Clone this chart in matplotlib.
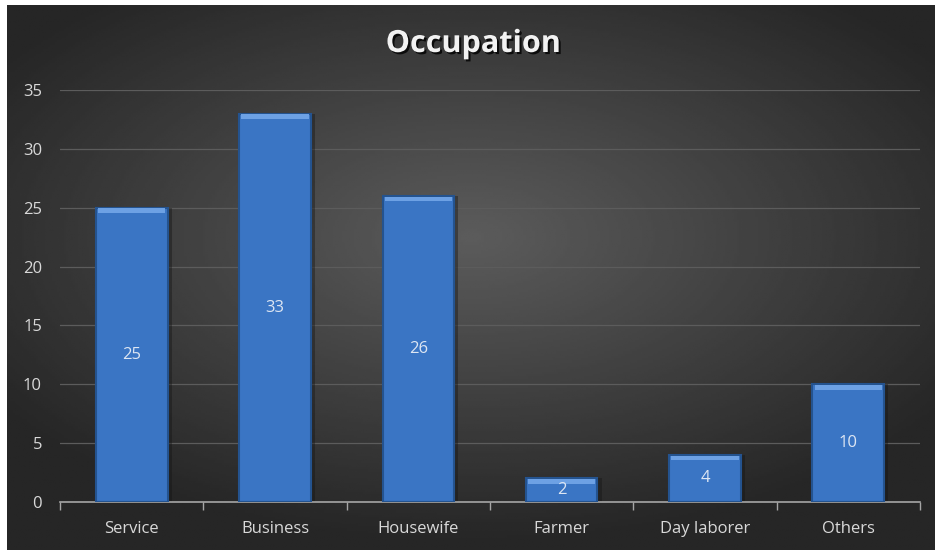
import numpy as np
import matplotlib.pyplot as plt
import matplotlib.patheffects as pe

categories = ["Service", "Business", "Housewife", "Farmer", "Day laborer", "Others"]
counts = [25, 33, 26, 2, 4, 10]
y_ticks = [0, 5, 10, 15, 20, 25, 30, 35]

plt.rcParams['font.family'] = ['Open Sans', 'DejaVu Sans']

fig = plt.figure(figsize=(9.35, 5.5), dpi=100, facecolor='white')

# dark radial-gradient panel behind the chart
bg = fig.add_axes([7 / 935, 0, 1 - 7 / 935, 1 - 5 / 550])
bg.set_axis_off()
gx, gy = np.meshgrid(np.linspace(-1, 1, 400), np.linspace(-1, 1, 240))
r = np.sqrt((gx * 1.0) ** 2 + ((gy - 0.15) * 1.1) ** 2)
shade = np.clip(0.36 - 0.17 * r, 0.15, 0.36)
bg.imshow(shade, cmap='gray', vmin=0, vmax=1, aspect='auto', extent=[0, 1, 0, 1],
          origin='lower')

ax = fig.add_axes([60 / 935, 48 / 550, 860 / 935, 412 / 550])
ax.set_facecolor('none')
x = np.arange(len(categories))
w = 0.5

# shadow, body and top bevel of each bar
ax.bar(x + 0.03, counts, width=w, color='#141414', alpha=0.4, zorder=2)
ax.bar(x, counts, width=w, color='#3a75c4', edgecolor='#24538f', linewidth=1.5, zorder=3)
ax.bar(x, [0.4] * len(counts), bottom=np.array(counts) - 0.45, width=w * 0.94,
       color='#6da1e4', zorder=4)

for xi, v in zip(x, counts):
    ax.text(xi, v / 2, str(v), ha='center', va='center', color='#dde6f3',
            fontsize=12, zorder=5)

ax.set_xlim(-0.5, len(categories) - 0.5)
ax.set_ylim(0, 35)
ax.set_yticks(y_ticks)
ax.set_yticklabels([str(t) for t in y_ticks], color='#d9d9d9', fontsize=12)
ax.tick_params(axis='y', length=0, pad=13)
ax.yaxis.grid(True, color='#5c5c5c', linewidth=0.9, zorder=0)
ax.set_axisbelow(True)

ax.set_xticks(x)
ax.set_xticklabels(categories, color='#d9d9d9', fontsize=12)
ax.set_xticks(np.arange(len(categories) + 1) - 0.5, minor=True)
ax.tick_params(axis='x', which='major', length=0, pad=14)
ax.tick_params(axis='x', which='minor', length=6, color='#a6a6a6', width=1)

for side in ['top', 'right', 'left']:
    ax.spines[side].set_visible(False)
ax.spines['bottom'].set_color('#a6a6a6')
ax.spines['bottom'].set_linewidth(1.2)

fig.text(473 / 935, 1 - 44 / 550, "Occupation", ha='center', va='center',
         fontsize=22, fontweight='bold', color='#f2f2f2',
         path_effects=[pe.withSimplePatchShadow(offset=(1.5, -1.5), shadow_rgbFace='black', alpha=0.8)])

fig.savefig('out.png', dpi=100, facecolor='white')
